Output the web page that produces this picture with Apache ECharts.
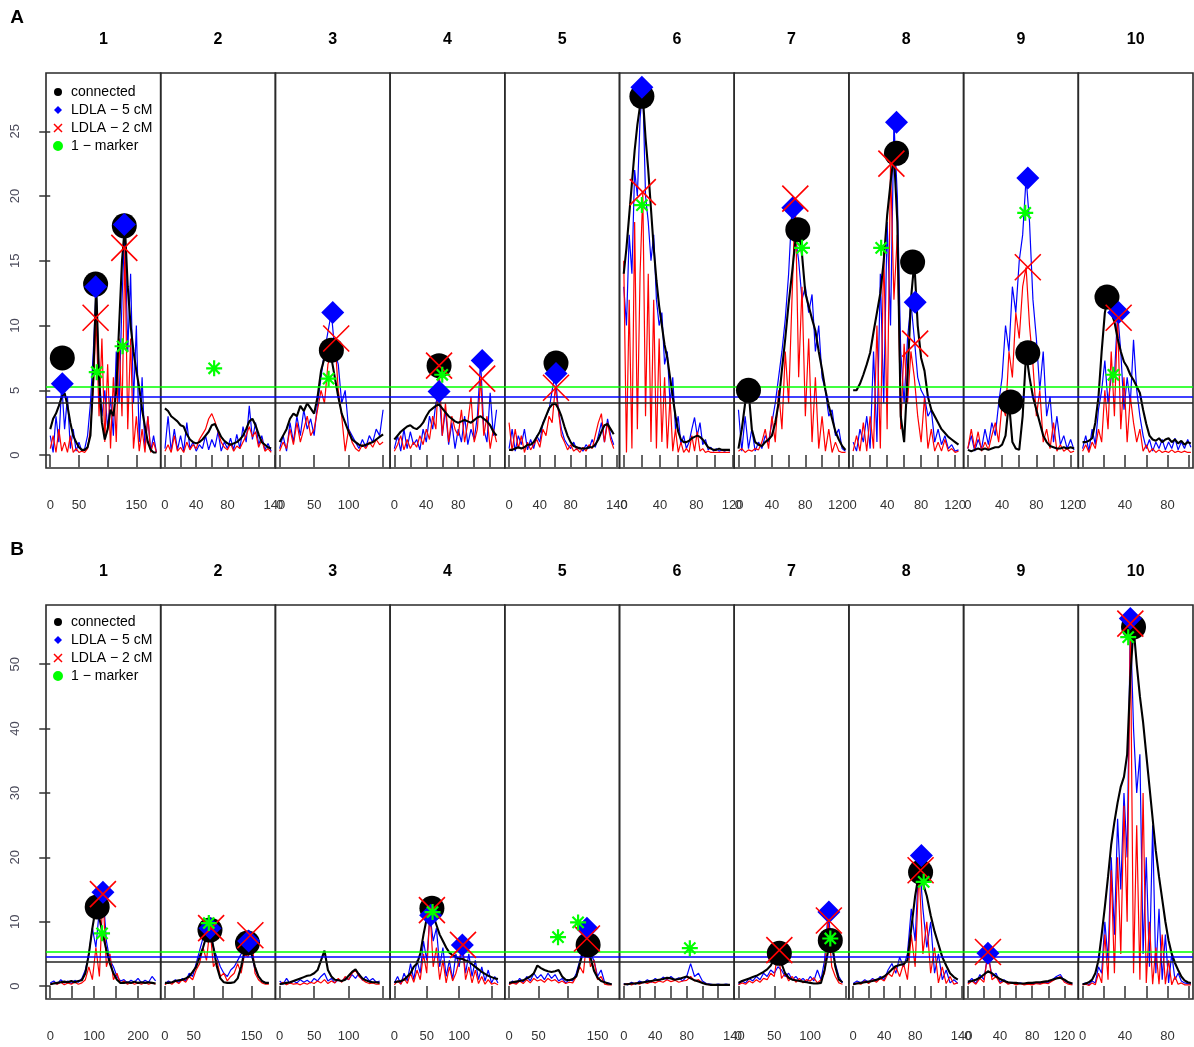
<!DOCTYPE html>
<html><head><meta charset="utf-8">
<script src="https://cdn.jsdelivr.net/npm/echarts@6/dist/echarts.min.js"></script>
<style>html,body{margin:0;padding:0;background:#fff}#c{width:1194px;height:1047px}</style>
</head><body><div id="c"></div>
<script>
// ---------------- DATA ----------------
const chromosomes = ['1','2','3','4','5','6','7','8','9','10'];
const legendNames = ['connected','LDLA − 5 cM','LDLA − 2 cM','1 − marker'];

// ===== Panel A =====
const yTicksA = [0,5,10,15,20,25];
const thresholdsA = [5.3,4.5,4.0];
const lengthsA = [185,136,154,133,138,117,127,125,124,100];
const ticksA = [[0,50,100,150],[0,20,40,60,80,100,120,140],[0,50,100,150],[0,20,40,60,80,100,120],[0,20,40,60,80,100,120,140],[0,20,40,60,80,100,120],[0,20,40,60,80,100,120],[0,20,40,60,80,100,120],[0,20,40,60,80,100,120],[0,20,40,60,80,100]];
const tickLabelsA = [[0,50,150],[0,40,80,140],[0,50,100],[0,40,80],[0,40,80,140],[0,40,80,120],[0,40,80,120],[0,40,80,120],[0,40,80,120],[0,40,80]];
const posA = [
 [0,5,10,15,20,25,30,35,40,45,50,55,60,65,70,75,80,85,90,95,100,105,110,115,120,125,130,135,140,145,150,155,160,165,170,175,180,185],
 [0,4,8,12,16,20,24,28,32,36,40,44,48,52,56,60,64,68,72,76,80,84,88,92,96,100,104,108,112,116,120,124,128,132,136],
 [0,5,10,15,20,25,30,35,40,45,50,55,60,65,70,75,80,85,90,95,100,105,110,115,120,125,130,135,140,145,150],
 [0,4,8,12,16,20,24,28,32,36,40,44,48,52,56,60,64,68,72,76,80,84,88,92,96,100,104,108,112,116,120,124,128],
 [0,4,8,12,16,20,24,28,32,36,40,44,48,52,56,60,64,68,72,76,80,84,88,92,96,100,104,108,112,116,120,124,128,132,136],
 [0,3,6,9,12,15,18,21,24,27,30,33,36,39,42,45,48,51,54,57,60,63,66,69,72,75,78,81,84,87,90,93,96,99,102,105,108,111,114,117],
 [0,4,8,12,16,20,24,28,32,36,40,44,48,52,56,60,64,68,72,76,80,84,88,92,96,100,104,108,112,116,120,124,128],
 [0,4,8,12,16,20,24,28,32,36,40,44,48,52,56,60,64,68,72,76,80,84,88,92,96,100,104,108,112,116,120,124],
 [0,4,8,12,16,20,24,28,32,36,40,44,48,52,56,60,64,68,72,76,80,84,88,92,96,100,104,108,112,116,120,124],
 [0,3,6,9,12,15,18,21,24,27,30,33,36,39,42,45,48,51,54,57,60,63,66,69,72,75,78,81,84,87,90,93,96,99,102]
];
const connectedA = [
 [2.0,2.8,3.2,3.8,4.5,4.8,3.8,2.5,1.5,1.0,0.6,0.4,0.4,0.6,1.5,6.0,13.2,6.0,2.5,1.2,2.0,3.5,3.0,5.0,10.0,15.0,17.7,13.0,10.0,8.0,6.5,5.2,3.5,2.2,1.0,0.4,0.2,0.2],
 [3.6,3.4,3.0,2.8,2.6,2.3,2.2,1.6,1.2,1.0,0.9,1.0,1.2,1.5,1.8,2.3,2.4,1.9,1.4,1.1,0.9,0.8,0.9,1.0,1.2,1.5,2.0,2.6,2.8,2.3,1.6,1.0,0.8,0.6,0.5],
 [1.0,1.5,2.0,2.8,3.2,3.0,3.8,3.4,4.0,3.6,3.2,4.5,6.5,7.5,8.1,7.5,6.0,4.5,3.2,2.5,1.8,1.2,1.0,0.8,0.7,0.8,0.9,1.0,1.2,1.4,1.6],
 [1.2,1.5,1.8,2.0,2.2,2.3,2.1,2.0,2.2,2.5,3.0,3.4,3.6,3.8,3.9,3.6,3.3,3.0,2.8,2.6,2.5,2.6,2.7,2.6,2.5,2.7,2.9,3.0,2.8,2.6,2.3,1.8,1.5],
 [0.4,0.4,0.5,0.6,0.5,0.6,0.8,0.8,1.0,1.4,1.8,2.4,3.0,3.6,3.9,4.0,3.6,3.0,2.2,1.5,1.0,0.7,0.6,0.5,0.5,0.5,0.6,0.6,0.8,1.2,1.8,2.3,2.4,2.0,1.6],
 [14.0,16.0,18.5,21.0,23.5,25.5,27.0,27.7,24.5,22.0,19.0,16.0,13.5,11.5,10.0,8.5,7.5,6.0,4.5,3.0,1.8,1.2,1.0,1.0,1.1,1.3,1.4,1.5,1.4,1.2,0.9,0.6,0.5,0.4,0.4,0.5,0.4,0.4,0.4,0.4],
 [0.5,2.0,4.0,5.0,2.0,1.0,0.8,0.7,1.0,1.2,1.5,2.5,4.0,6.6,9.0,11.7,14.0,16.5,17.5,15.5,12.5,11.5,10.5,9.6,8.0,6.6,5.0,3.8,2.8,1.8,1.2,0.7,0.4],
 [5.0,5.0,5.5,6.2,7.0,7.9,9.5,11.0,12.5,15.0,18.5,21.0,23.3,18.0,3.0,1.0,6.0,12.0,14.9,10.0,7.5,6.5,4.5,3.5,3.0,2.5,2.0,1.7,1.4,1.2,1.0,0.8],
 [0.4,0.3,0.4,0.5,0.4,0.5,0.4,0.5,0.6,0.6,0.8,1.5,4.1,1.0,0.5,0.4,3.0,7.9,6.0,4.5,3.5,2.5,1.5,1.0,0.7,0.6,0.5,0.5,0.6,0.5,0.6,0.5],
 [1.0,1.0,1.1,1.3,2.5,4.5,8.0,11.0,12.2,11.0,10.3,9.0,8.0,7.2,6.8,6.2,5.8,5.3,4.8,3.5,2.4,1.5,1.2,1.1,1.3,1.0,1.2,1.3,1.0,1.2,0.9,1.1,0.8,1.0,0.9]
];
const ldla5A = [
 [1.5,0.2,3.0,1.0,5.5,2.0,4.5,0.5,2.0,0.3,1.0,0.3,0.5,1.5,4.0,8.0,13.0,6.0,3.0,5.0,2.0,4.5,1.5,8.0,4.0,12.0,17.8,8.0,14.0,4.0,10.0,1.0,6.0,0.5,3.0,0.3,1.5,0.2],
 [0.5,3.0,0.3,2.0,0.4,1.5,0.3,2.5,0.5,1.0,0.3,0.8,0.5,1.5,0.4,1.2,0.6,1.8,0.3,1.0,0.5,1.3,0.4,1.6,0.5,2.2,1.0,3.8,1.2,2.5,0.8,1.5,0.4,0.9,0.3],
 [0.5,1.5,0.3,2.5,1.0,3.0,1.5,3.5,2.0,2.8,1.5,4.0,6.0,8.0,9.5,11.0,8.0,7.0,4.0,5.0,2.0,1.5,1.0,0.5,1.2,0.6,1.5,1.0,2.0,1.5,3.5],
 [0.5,1.5,0.3,2.0,0.5,1.8,0.8,1.2,0.4,2.0,1.0,3.0,2.0,4.0,4.9,1.5,3.5,0.8,2.5,0.5,2.0,1.0,3.0,0.8,2.0,1.2,3.0,7.3,2.0,1.0,4.8,1.5,3.5],
 [0.5,2.0,0.3,1.5,0.8,2.0,0.4,1.2,0.5,1.5,1.0,2.5,3.0,3.5,5.0,6.3,3.5,2.0,1.2,0.8,0.5,1.0,0.4,0.6,0.3,0.8,0.5,1.2,0.6,1.5,2.5,1.0,2.8,1.5,0.8],
 [13.0,10.0,17.0,14.0,22.0,20.0,26.0,28.4,20.0,18.0,15.0,17.0,12.0,10.0,11.0,7.0,8.0,4.0,6.0,2.0,3.0,0.8,1.5,0.5,1.0,2.0,2.9,1.5,2.5,0.8,1.2,0.4,0.6,0.3,0.5,0.3,0.4,0.3,0.4,0.3],
 [3.5,0.3,3.0,0.5,2.0,0.3,1.0,0.5,1.5,1.0,2.5,4.0,6.0,8.0,10.5,14.0,19.1,17.0,15.0,12.0,13.0,11.0,12.4,8.0,10.0,6.0,5.0,3.0,3.5,1.5,2.0,0.5,0.3],
 [1.0,0.3,2.0,1.0,3.0,0.5,8.0,1.0,14.0,4.0,18.0,10.0,25.7,20.0,8.0,4.0,9.0,11.8,9.0,6.0,5.0,4.5,3.0,3.5,1.0,2.0,0.8,1.5,0.5,0.8,0.3,0.4],
 [0.5,1.5,0.3,1.2,0.5,2.0,0.8,2.5,1.5,4.0,6.0,10.0,8.0,13.0,11.0,15.0,17.0,21.4,18.0,12.0,9.0,5.0,8.0,3.0,4.5,1.0,3.0,0.8,1.5,0.5,1.2,0.4],
 [0.5,1.5,0.3,2.0,0.8,3.5,5.0,7.3,4.0,6.0,6.0,11.0,8.0,3.5,6.0,4.0,8.9,5.0,3.0,1.5,0.5,1.2,0.3,1.0,0.5,1.2,0.4,1.0,0.5,1.3,0.4,1.0,0.5,1.2,0.6]
];
const ldla2A = [
 [0.5,1.5,0.2,2.0,0.3,1.0,0.2,1.5,0.2,0.5,0.2,0.3,0.2,0.5,2.0,5.0,10.6,3.0,9.0,1.0,7.0,0.5,6.0,1.0,9.0,3.0,16.0,2.0,9.0,0.5,3.0,0.3,2.0,0.2,3.0,0.2,1.0,0.2],
 [0.3,0.8,0.2,1.5,0.3,0.6,0.2,1.0,0.4,0.8,0.5,1.2,1.6,2.0,2.8,3.2,2.6,1.8,1.0,0.6,0.4,0.9,0.3,0.7,0.5,1.0,1.5,2.2,1.4,1.8,0.6,1.2,0.3,0.5,0.2],
 [0.3,1.0,0.5,2.0,0.8,2.5,1.0,2.0,3.0,1.5,2.0,3.5,5.0,4.0,7.0,8.0,9.0,5.0,3.0,0.3,2.0,1.0,0.5,0.3,0.8,0.5,1.0,0.6,1.2,0.8,1.0],
 [0.3,0.8,1.5,0.4,1.2,0.5,1.0,0.6,1.5,0.8,2.0,1.2,3.0,2.0,6.9,1.5,4.0,1.0,3.0,2.0,1.5,3.5,1.0,2.5,4.5,1.0,2.0,5.9,1.5,3.0,0.5,2.0,1.0],
 [2.5,0.3,2.0,0.5,1.5,0.2,1.0,0.4,0.8,1.2,0.6,2.0,1.5,3.0,2.5,5.2,3.5,1.5,1.0,0.4,0.8,0.3,0.5,0.2,0.6,0.3,0.8,0.5,1.5,2.5,3.2,1.0,2.5,1.2,0.5],
 [15.0,0.2,12.0,0.5,18.0,2.0,14.0,20.3,3.0,14.0,1.0,12.0,0.5,9.0,1.0,6.0,0.5,4.5,0.3,2.0,0.2,1.0,0.2,0.5,0.2,1.5,0.3,1.8,0.3,0.5,0.2,0.3,0.2,0.2,0.2,0.2,0.2,0.2,0.2,0.2],
 [0.3,0.5,0.2,0.4,0.3,0.5,0.4,1.0,2.0,0.5,3.0,1.0,5.0,2.0,8.0,4.0,12.0,19.8,6.0,13.0,3.0,9.0,1.0,6.0,0.5,3.0,0.3,2.0,0.2,1.0,0.3,0.2,0.2],
 [0.3,1.5,0.3,2.5,0.3,3.0,0.5,10.0,0.5,16.0,2.0,22.5,12.0,17.0,2.0,8.6,4.0,8.0,6.0,3.0,1.0,4.5,0.5,2.0,0.3,1.0,0.3,1.2,0.3,0.5,0.2,0.3],
 [0.5,2.0,0.5,1.8,0.3,1.0,0.4,1.5,2.5,1.0,4.0,3.0,8.0,6.0,11.0,9.0,13.0,14.5,10.0,7.0,3.0,5.0,1.0,2.0,0.5,2.5,0.3,0.8,0.3,0.5,0.2,0.3],
 [0.3,0.8,0.2,1.0,0.5,2.0,1.0,5.0,2.0,8.0,3.0,10.6,2.0,6.0,1.0,4.5,2.5,1.0,2.0,0.3,0.8,0.2,0.5,0.2,0.4,0.2,0.3,0.2,0.4,0.2,0.3,0.2,0.3,0.2,0.2]
];
// peaks: [chromosome, position cM, LOD]
const peaksConnectedA = [[1,21,7.5],[1,79,13.2],[1,129,17.7],[3,75,8.1],[4,56,6.9],[5,61,7.1],[6,20,27.7],[7,12,5.0],[7,71,17.4],[8,51,23.3],[8,70,14.9],[9,50,4.1],[9,70,7.9],[10,23,12.2]];
const peaksLdla5A = [[1,21,5.5],[1,79,13.0],[1,129,17.8],[3,77,11.0],[4,56,4.9],[4,110,7.3],[5,61,6.3],[6,20,28.4],[7,65,19.1],[8,51,25.7],[8,73,11.8],[9,70,21.4],[10,34,11.0]];
const peaksLdla2A = [[1,79,10.6],[1,129,16.0],[3,82,9.0],[4,56,6.9],[4,110,5.9],[5,61,5.2],[6,21,20.3],[7,68,19.8],[8,45,22.5],[8,73,8.6],[9,70,14.5],[10,34,10.6]];
const peaksMarkerA = [[1,81,6.4],[1,126,8.4],[2,63,6.7],[3,71,5.9],[4,60,6.2],[6,20,19.3],[7,76,16.0],[8,33,16.0],[9,67,18.7],[10,29,6.2]];

// ===== Panel B =====
const yTicksB = [0,10,20,30,40,50];
const thresholdsB = [5.3,4.5,3.8];
const lengthsB = [242,184,154,164,180,135,148,137,132,100];
const ticksB = [[0,50,100,150,200],[0,50,100,150],[0,50,100,150],[0,50,100,150],[0,50,100,150],[0,20,40,60,80,100,120,140],[0,50,100,150],[0,20,40,60,80,100,120,140],[0,20,40,60,80,100,120],[0,20,40,60,80,100]];
const tickLabelsB = [[0,100,200],[0,50,150],[0,50,100],[0,50,100],[0,50,150],[0,40,80,140],[0,50,100],[0,40,80,140],[0,40,80,120],[0,40,80]];
const posB = [
 [0,8,16,24,32,40,48,56,64,72,80,88,96,104,112,120,128,136,144,152,160,168,176,184,192,200,208,216,224,232,240],
 [0,6,12,18,24,30,36,42,48,54,60,66,72,78,84,90,96,102,108,114,120,126,132,138,144,150,156,162,168,174,180],
 [0,5,10,15,20,25,30,35,40,45,50,55,60,65,70,75,80,85,90,95,100,105,110,115,120,125,130,135,140,145],
 [0,5,10,15,20,25,30,35,40,45,50,55,60,65,70,75,80,85,90,95,100,105,110,115,120,125,130,135,140,145,150,155,160],
 [0,6,12,18,24,30,36,42,48,54,60,66,72,78,84,90,96,102,108,114,120,126,132,138,144,150,156,162,168,174],
 [0,5,10,15,20,25,30,35,40,45,50,55,60,65,70,75,80,85,90,95,100,105,110,115,120,125,130,135],
 [0,5,10,15,20,25,30,35,40,45,50,55,60,65,70,75,80,85,90,95,100,105,110,115,120,125,130,135,140,145],
 [0,5,10,15,20,25,30,35,40,45,50,55,60,65,70,75,80,85,90,95,100,105,110,115,120,125,130,135],
 [0,5,10,15,20,25,30,35,40,45,50,55,60,65,70,75,80,85,90,95,100,105,110,115,120,125,130],
 [0,3,6,9,12,15,18,21,24,27,30,33,36,39,42,45,48,51,54,57,60,63,66,69,72,75,78,81,84,87,90,93,96,99,102]
];
const connectedB = [
 [0.3,0.4,0.5,0.6,0.7,0.6,0.8,0.6,0.8,0.9,2.0,5.0,9.0,12.3,10.5,8.0,5.6,3.5,2.0,1.0,0.5,0.5,0.6,0.5,0.7,0.5,0.6,0.5,0.6,0.5,0.4],
 [0.5,0.5,0.6,0.8,0.9,1.0,1.2,1.5,2.2,3.0,4.5,6.0,7.8,8.7,6.0,3.0,1.2,0.6,0.5,0.5,0.6,1.2,3.0,5.5,6.7,5.0,3.0,1.5,0.8,0.5,0.5],
 [0.3,0.4,0.5,0.6,0.8,1.0,1.2,1.4,1.6,1.7,2.0,2.5,4.0,5.5,2.5,1.5,1.0,0.9,0.8,1.0,1.6,2.2,2.6,1.8,1.2,0.9,0.7,0.6,0.6,0.5],
 [0.6,0.7,0.8,1.0,1.5,2.0,3.0,3.5,5.0,8.0,10.5,12.1,11.0,9.5,8.0,7.0,6.0,5.2,4.8,4.5,4.3,4.2,4.0,3.8,3.4,3.0,2.6,2.2,1.9,1.6,1.4,1.2,1.1],
 [0.5,0.6,0.7,0.8,0.9,1.2,1.5,2.0,3.2,2.8,2.5,2.3,2.2,2.3,2.5,1.5,1.0,0.9,1.1,1.5,3.5,5.5,6.4,4.5,2.4,1.3,0.8,0.6,0.4,0.3],
 [0.3,0.3,0.4,0.4,0.5,0.6,0.7,0.8,0.9,1.0,1.1,1.3,1.2,1.0,1.1,1.3,1.5,1.2,0.9,0.7,0.5,0.3,0.2,0.2,0.2,0.2,0.2,0.2],
 [0.5,0.8,1.0,1.2,1.4,1.6,1.9,2.2,2.6,3.2,4.2,5.1,3.5,2.0,1.3,1.0,0.9,0.8,0.7,0.6,0.5,0.4,0.4,0.5,2.5,5.5,7.1,3.0,1.0,0.6],
 [0.3,0.4,0.5,0.6,0.7,0.8,1.0,1.2,1.5,2.0,2.6,3.1,3.3,3.4,4.0,9.0,14.0,17.7,16.0,14.0,11.0,8.5,6.5,4.5,3.2,2.0,1.4,1.0],
 [0.7,0.8,1.0,1.3,1.8,2.3,2.0,1.5,1.1,0.8,0.6,0.5,0.5,0.4,0.4,0.5,0.5,0.6,0.6,0.7,0.8,1.0,1.2,1.3,1.0,0.6,0.4],
 [0.3,0.4,0.6,1.0,2.0,4.0,8.0,12.3,17.0,22.0,25.5,28.5,31.0,32.5,36.0,48.0,55.8,50.0,45.0,41.0,36.0,31.0,26.0,21.0,17.0,13.5,10.0,7.1,5.0,3.6,2.5,1.5,0.9,0.6,0.5]
];
const ldla5B = [
 [0.5,0.8,0.3,1.0,0.5,0.8,0.4,0.9,0.6,1.2,2.5,5.0,9.0,6.0,12.0,14.6,7.0,4.0,3.0,1.5,0.8,1.0,0.5,0.9,0.6,1.2,0.5,0.9,0.6,1.5,0.8],
 [0.3,0.8,0.5,1.0,0.6,1.2,0.8,2.0,1.5,3.5,5.5,7.5,8.5,9.0,6.0,4.5,3.0,2.0,1.5,2.5,3.0,4.0,5.0,6.5,7.0,5.0,2.5,1.5,0.8,0.6,0.5],
 [0.8,0.3,1.2,0.4,0.8,0.5,1.0,0.6,0.9,0.5,1.2,0.8,1.5,2.0,0.8,1.2,0.5,1.0,0.7,1.3,1.0,1.8,1.2,2.0,0.9,1.5,0.8,1.2,0.6,0.8],
 [0.5,1.5,0.3,2.0,0.8,3.5,1.0,4.0,2.0,7.0,4.0,11.0,7.0,9.0,3.0,6.0,1.5,4.0,1.0,5.0,3.0,6.4,2.0,5.0,1.5,4.0,1.0,3.0,0.8,2.5,0.5,1.5,0.5],
 [0.3,0.8,0.4,1.2,0.6,1.5,0.8,2.0,1.2,1.8,1.0,2.0,1.2,1.8,0.8,1.2,0.5,1.0,0.8,2.0,4.0,6.0,9.0,5.0,4.0,1.5,2.5,0.6,0.5,0.3],
 [0.4,0.2,0.6,0.3,0.8,0.5,1.0,0.6,1.2,0.8,1.4,1.0,1.5,1.0,1.3,0.8,1.5,3.5,1.5,2.0,0.8,0.4,0.3,0.2,0.3,0.2,0.3,0.2],
 [0.3,0.8,0.5,1.2,0.8,1.5,1.0,2.0,1.5,2.5,2.0,3.0,2.5,1.5,2.0,1.0,1.5,0.8,1.2,0.6,1.5,0.8,2.5,1.0,4.0,11.5,6.0,3.5,1.5,0.5],
 [0.4,0.8,0.5,1.0,0.6,1.2,0.8,1.5,1.0,2.5,3.5,2.0,4.5,3.0,5.0,12.0,7.0,20.3,12.0,6.0,10.0,2.0,5.0,1.0,2.5,0.5,1.0,0.4],
 [0.5,1.2,0.4,1.8,1.0,5.1,1.5,2.0,0.6,1.0,0.4,0.6,0.3,0.5,0.3,0.4,0.3,0.5,0.4,0.6,0.5,1.0,1.5,1.8,0.8,0.5,0.3],
 [0.3,0.5,0.2,0.8,0.5,3.0,2.0,10.0,4.0,20.0,8.0,26.0,15.0,30.0,20.0,57.1,40.0,30.0,36.0,5.0,20.0,3.0,25.0,2.0,12.0,1.0,8.0,0.5,5.0,1.0,2.0,0.8,0.5,0.4,0.3]
];
const ldla2B = [
 [0.2,0.5,0.3,0.6,0.2,0.5,0.3,0.6,0.3,0.5,1.0,3.0,1.0,6.0,1.5,14.3,3.0,5.0,1.0,2.0,0.4,0.8,0.3,0.6,0.3,0.5,0.3,0.6,0.3,0.5,0.3],
 [0.2,0.6,0.3,0.8,0.4,1.0,0.6,1.5,1.0,2.5,3.5,6.0,4.0,9.0,3.0,4.0,1.5,2.0,0.8,1.5,2.0,3.5,2.0,5.0,4.5,7.9,2.0,1.0,0.5,0.3,0.3],
 [0.3,0.6,0.2,0.5,0.3,0.4,0.2,0.5,0.3,0.6,0.4,0.8,0.5,1.0,0.4,0.8,0.5,1.2,0.6,1.5,1.0,2.0,2.5,1.5,1.0,0.6,0.4,0.5,0.3,0.3],
 [0.2,0.8,0.3,1.2,0.4,2.0,0.6,2.5,1.0,5.0,2.0,11.8,3.0,6.0,1.0,4.0,0.5,3.0,0.8,2.0,4.0,6.4,1.0,3.0,0.5,2.5,0.4,1.5,0.3,1.0,0.3,0.5,0.2],
 [0.2,0.5,0.3,0.8,0.4,1.0,0.5,1.2,0.8,1.0,0.6,1.2,0.8,1.0,0.5,0.8,0.4,0.6,0.5,1.5,3.0,2.0,7.4,3.0,4.0,1.0,1.5,0.3,0.2,0.2],
 [0.2,0.4,0.2,0.5,0.3,0.6,0.4,0.7,0.5,0.8,0.6,1.0,0.7,0.9,0.6,0.8,0.9,1.5,0.8,1.0,0.5,0.3,0.2,0.2,0.2,0.2,0.2,0.2],
 [0.2,0.5,0.3,0.8,0.5,1.0,0.6,1.2,1.0,2.0,1.5,5.6,1.2,2.0,0.8,1.5,0.6,1.2,0.5,1.0,0.8,1.3,0.5,1.0,2.0,10.2,3.0,1.5,0.5,0.3],
 [0.2,0.5,0.3,0.8,0.4,1.0,0.6,1.2,0.8,2.0,1.5,3.0,1.5,3.5,1.0,8.0,3.0,18.0,5.0,10.0,2.0,6.0,0.5,3.0,0.4,1.5,0.3,0.5],
 [0.3,0.8,0.3,1.2,0.6,5.3,1.0,1.5,0.4,0.8,0.3,0.5,0.2,0.4,0.2,0.3,0.2,0.4,0.3,0.5,0.4,0.8,1.2,1.5,0.6,0.3,0.2],
 [0.2,0.3,0.1,0.5,0.2,2.0,0.5,8.0,1.0,18.0,2.0,20.0,5.0,28.0,10.0,56.3,2.0,25.0,1.0,30.0,0.5,10.0,0.3,6.0,0.3,8.0,0.3,4.0,0.2,1.5,0.3,0.5,0.2,0.2,0.2]
];
const peaksConnectedB = [[1,107,12.3],[2,78,8.7],[2,143,6.7],[4,58,12.1],[5,134,6.4],[7,57,5.1],[7,128,7.1],[8,87,17.7],[10,48,55.8]];
const peaksLdla5B = [[1,120,14.6],[2,78,9.0],[2,145,7.0],[4,56,11.0],[4,105,6.4],[5,132,9.0],[7,126,11.5],[8,88,20.3],[9,25,5.1],[10,45,57.1]];
const peaksLdla2B = [[1,120,14.3],[2,80,9.0],[2,148,7.9],[4,58,11.8],[4,106,6.4],[5,132,7.4],[7,57,5.6],[7,126,10.2],[8,87,18.0],[9,25,5.3],[10,45,56.3]];
const peaksMarkerB = [[1,118,8.2],[2,76,9.8],[4,59,11.5],[5,83,7.6],[5,117,9.9],[6,84,5.9],[7,128,7.4],[8,91,16.2],[10,43,54.2]];

// ---------------- LAYOUT / STYLE ----------------
const FONT = '"Liberation Sans", Arial, sans-serif';
const PANEL_LEFT = 46, PANEL_RIGHT = 1193, N = 10;
const panelW = (PANEL_RIGHT - PANEL_LEFT) / N;
const X_PATH = 'path://M0,0L10,10M10,0L0,10';
const DIAMOND_PATH = 'path://M5,0L10,5L5,10L0,5Z';
const STAR_PATH = 'path://M5,0L5,10M0,5L10,5M1.5,1.5L8.5,8.5M8.5,1.5L1.5,8.5';
const COLORS = {connected:'#000000', l5:'#0000ff', l2:'#ff0000', marker:'#00ff00'};

const grids = [], xAxes = [], yAxes = [], series = [], graphics = [];

function addPanel(cfg) {
  graphics.push({type:'text', x:17, y:cfg.letterY, style:{text:cfg.letter, font:'bold 19px ' + FONT, fill:'#000', textAlign:'center', textVerticalAlign:'middle'}});
  for (let i = 0; i < N; i++) {
    const gi = grids.length;
    const left = PANEL_LEFT + i * panelW;
    grids.push({left:left, top:cfg.top, width:panelW, height:cfg.height, show:true, borderColor:'#2a2a2a', borderWidth:1.6, backgroundColor:'transparent'});
    graphics.push({type:'text', x:left + panelW/2, y:cfg.titleY, style:{text:chromosomes[i], font:'bold 16px ' + FONT, fill:'#000', textAlign:'center', textVerticalAlign:'middle'}});
    const L = cfg.lengths[i];
    xAxes.push({type:'value', gridIndex:gi, min:-0.04*L, max:1.04*L,
      axisLine:{show:false}, splitLine:{show:false},
      axisTick:{show:true, inside:false, length:12, customValues:cfg.ticks[i], lineStyle:{color:'#333', width:1.5}},
      axisLabel:{show:true, customValues:cfg.labels[i], margin:31, fontSize:13, color:'#333', fontFamily:FONT}});
    yAxes.push({type:'value', gridIndex:gi, min:cfg.ymin, max:cfg.ymax, show:i === 0,
      axisLine:{show:false}, splitLine:{show:false},
      axisTick:{show:true, length:11, customValues:cfg.yTicks, lineStyle:{color:'#333', width:1.5}},
      axisLabel:{customValues:cfg.yTicks, rotate:90, margin:24, fontSize:13, color:'#4a4a5a', fontFamily:FONT}});
    const pos = cfg.pos[i];
    const pts = arr => arr.map((v, k) => [pos[k], v]);
    series.push({type:'line', name:'ldla5-line', xAxisIndex:gi, yAxisIndex:gi, data:pts(cfg.l5[i]), symbol:'none', silent:true, lineStyle:{color:COLORS.l5, width:1.2}, z:2});
    series.push({type:'line', name:'ldla2-line', xAxisIndex:gi, yAxisIndex:gi, data:pts(cfg.l2[i]), symbol:'none', silent:true, lineStyle:{color:COLORS.l2, width:1.2}, z:2});
    series.push({type:'line', name:'connected-line', xAxisIndex:gi, yAxisIndex:gi, data:pts(cfg.conn[i]), symbol:'none', silent:true, lineStyle:{color:COLORS.connected, width:2.1}, z:3,
      markLine:{silent:true, symbol:'none', label:{show:false}, animation:false,
        data:[{yAxis:cfg.thresholds[0], lineStyle:{color:COLORS.marker, width:1.5, type:'solid'}},
              {yAxis:cfg.thresholds[1], lineStyle:{color:COLORS.l5, width:1.5, type:'solid'}},
              {yAxis:cfg.thresholds[2], lineStyle:{color:'#222', width:1.5, type:'solid'}}]}});
    const pick = arr => arr.filter(p => p[0] === i + 1).map(p => [p[1], p[2]]);
    series.push({type:'scatter', name:legendNames[0], xAxisIndex:gi, yAxisIndex:gi, data:pick(cfg.pc), symbol:'circle', symbolSize:25, itemStyle:{color:COLORS.connected, opacity:1}, z:5, silent:true});
    series.push({type:'scatter', name:legendNames[1], xAxisIndex:gi, yAxisIndex:gi, data:pick(cfg.p5), symbol:'diamond', symbolSize:[23,23], itemStyle:{color:COLORS.l5, opacity:1}, z:6, silent:true});
    series.push({type:'scatter', name:legendNames[2], xAxisIndex:gi, yAxisIndex:gi, data:pick(cfg.p2), symbol:X_PATH, symbolSize:26, itemStyle:{color:'rgba(0,0,0,0)', borderColor:COLORS.l2, borderWidth:1.6, opacity:1}, z:7, silent:true});
    series.push({type:'scatter', name:legendNames[3], xAxisIndex:gi, yAxisIndex:gi, data:pick(cfg.pm), symbol:STAR_PATH, symbolSize:16, itemStyle:{color:'rgba(0,0,0,0)', borderColor:COLORS.marker, borderWidth:2.2, opacity:1}, z:8, silent:true});
  }
}

addPanel({letter:'A', letterY:18, titleY:40, top:73, height:395, ymin:-1.0, ymax:29.5, yTicks:yTicksA, thresholds:thresholdsA,
  lengths:lengthsA, ticks:ticksA, labels:tickLabelsA, pos:posA, conn:connectedA, l5:ldla5A, l2:ldla2A,
  pc:peaksConnectedA, p5:peaksLdla5A, p2:peaksLdla2A, pm:peaksMarkerA});
addPanel({letter:'B', letterY:550, titleY:572, top:605, height:394, ymin:-2.0, ymax:59.2, yTicks:yTicksB, thresholds:thresholdsB,
  lengths:lengthsB, ticks:ticksB, labels:tickLabelsB, pos:posB, conn:connectedB, l5:ldla5B, l2:ldla2B,
  pc:peaksConnectedB, p5:peaksLdla5B, p2:peaksLdla2B, pm:peaksMarkerB});

function mkLegend(top) {
  return {left:53, top:top, orient:'vertical', padding:0, itemWidth:16, itemHeight:8, itemGap:4, selectedMode:false,
    textStyle:{fontSize:14, fontFamily:FONT, color:'#000'},
    data:[
      {name:legendNames[0], icon:'circle', itemStyle:{color:COLORS.connected}},
      {name:legendNames[1], icon:DIAMOND_PATH, itemStyle:{color:COLORS.l5}},
      {name:legendNames[2], icon:X_PATH, itemStyle:{color:'rgba(0,0,0,0)', borderColor:COLORS.l2, borderWidth:1.5}},
      {name:legendNames[3], icon:'circle', itemStyle:{color:COLORS.marker}}
    ]};
}

const chart = echarts.init(document.getElementById('c'), null, {renderer:'canvas'});
chart.setOption({
  animation:false,
  backgroundColor:'#ffffff',
  grid:grids, xAxis:xAxes, yAxis:yAxes, series:series,
  legend:[mkLegend(85), mkLegend(615)],
  graphic:graphics
});
</script></body></html>
